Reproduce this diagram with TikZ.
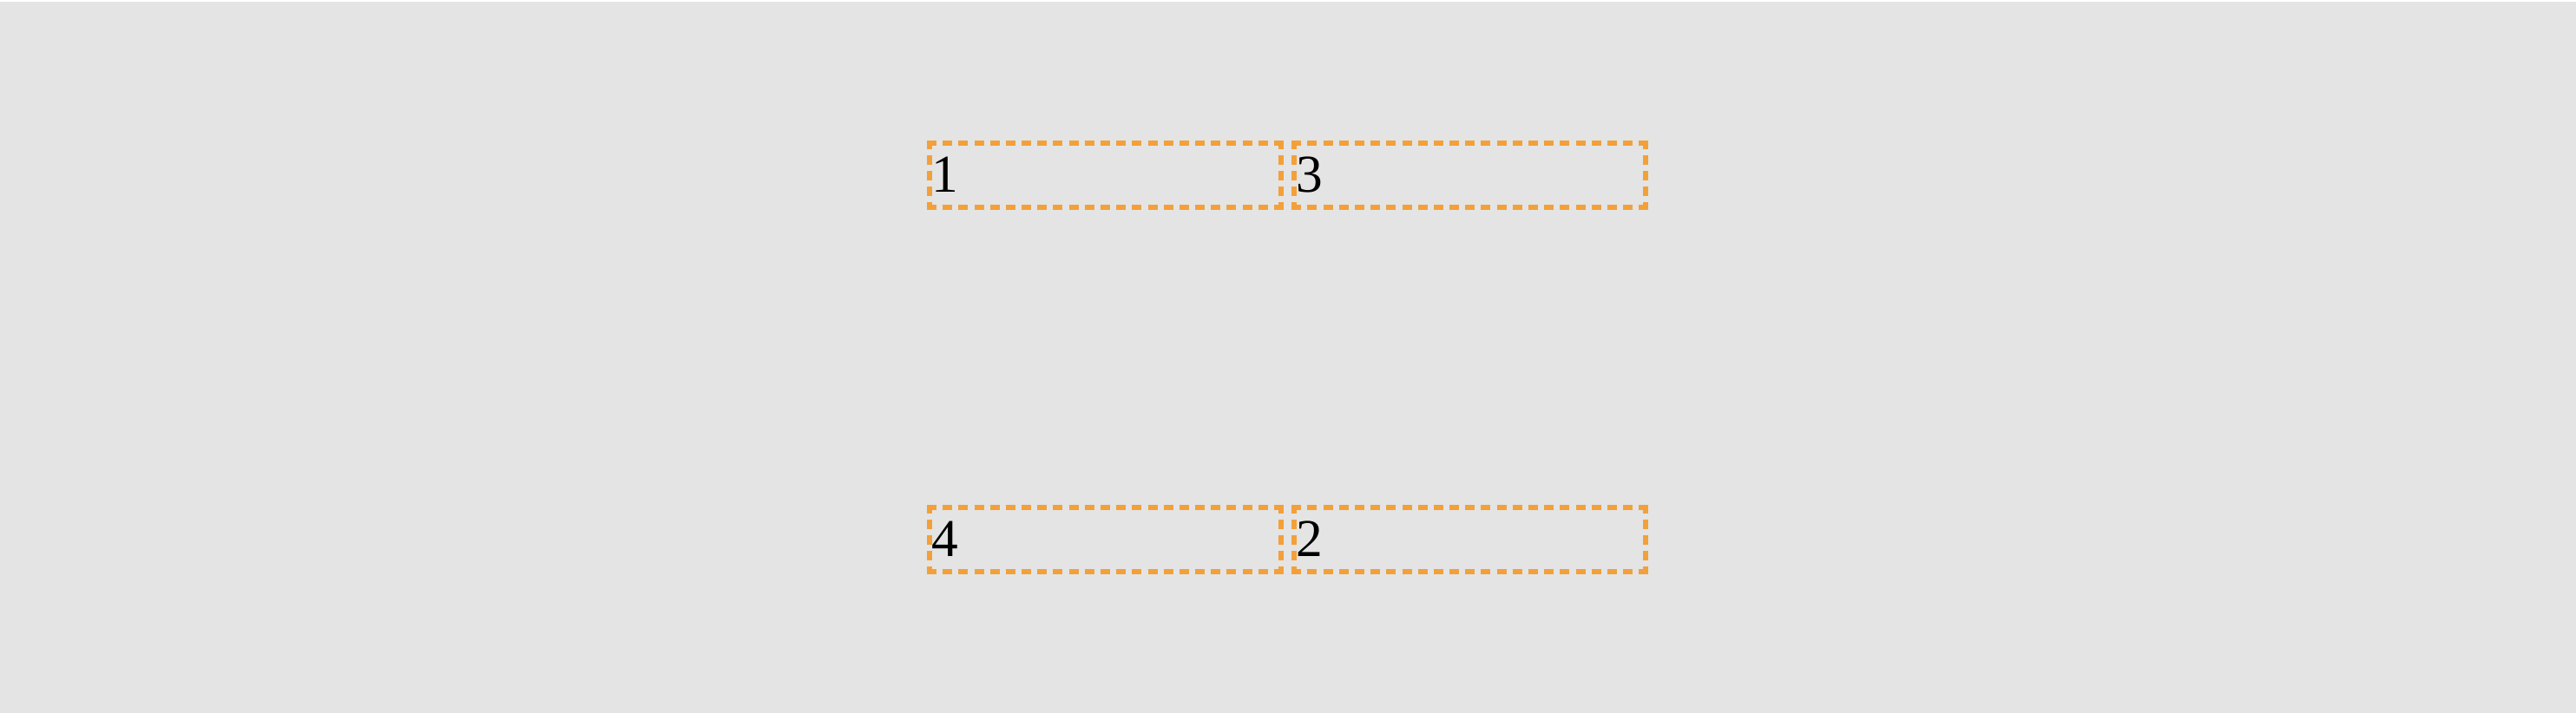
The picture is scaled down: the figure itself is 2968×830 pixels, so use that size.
\documentclass[tikz,border=0pt]{standalone}
\usepackage{fontspec}
\setmainfont{Liberation Serif}
\usetikzlibrary{positioning}
\definecolor{bggrey}{RGB}{228,228,228}
\definecolor{slotorange}{RGB}{243,160,57}
\tikzset{
    node distance=7.65pt, % gap between neighbouring boxes
    }

\begin{document}
\begin{tikzpicture}[x=0.5pt,y=-0.5pt,
slotbox/.style={rectangle, outer sep=0pt, minimum height=37.3pt, text width=200.5pt, inner xsep=1pt, align=left, text height=19.7pt, text depth=0pt, font=\fontsize{30.7}{36}\selectfont},
slotedge/.style={draw=slotorange, line width=3pt},
hedge/.style={slotedge, dash pattern=on 5.5pt off 3.59pt},
vedge/.style={slotedge, dash pattern=on 5.5pt off 3.5pt, dash phase=2.1pt},
]
\useasboundingbox (0,0) rectangle (2968,830);
\fill[bggrey] (0,2) rectangle (2968,822);

\node[slotbox] (one) at (1273.5,202) {1};
\node[slotbox] (three) [right=of one] {3};
\node[slotbox] (four) [below=172.7pt of one] {4};
\node[slotbox] (two) [right=of four] {2};

% dashed frames, corners kept solid
\foreach \n in {one,three,four,two} {
  \draw[hedge] ([xshift=-1.5pt]\n.north west) -- ([xshift=1.5pt]\n.north east);
  \draw[hedge] ([xshift=-1.5pt]\n.south west) -- ([xshift=1.5pt]\n.south east);
  \draw[vedge] (\n.north west) -- (\n.south west);
  \draw[vedge] (\n.north east) -- (\n.south east);
}
\end{tikzpicture}
\end{document}
